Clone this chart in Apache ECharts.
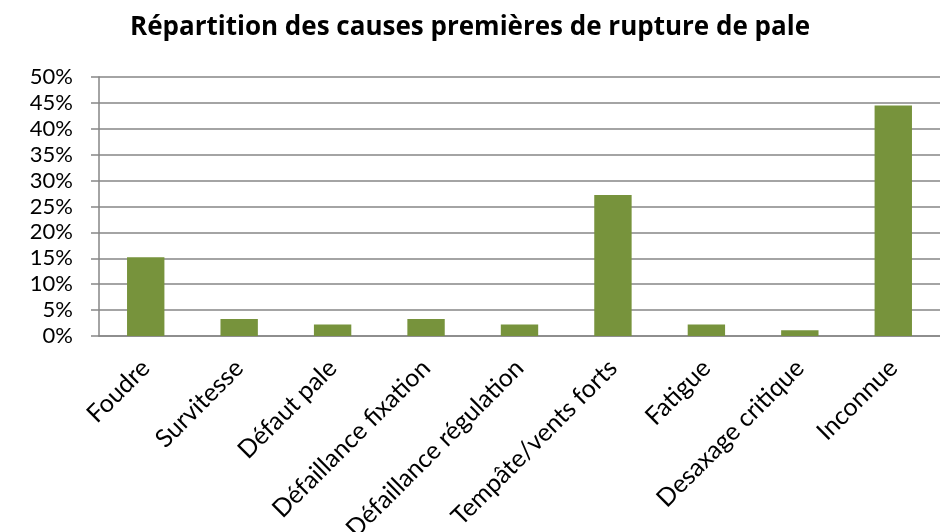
<!DOCTYPE html>
<html>
<head>
<meta charset="utf-8">
<script src="https://cdn.jsdelivr.net/npm/echarts@6/dist/echarts.min.js"></script>
<style>
html, body { margin: 0; padding: 0; background: #fff; }
#main { width: 940px; height: 532px; }
</style>
</head>
<body>
<div id="main"></div>
<script>
// données
var categories = ['Foudre', 'Survitesse', 'Défaut pale', 'Défaillance fixation', 'Défaillance régulation',
  'Tempâte/vents forts', 'Fatigue', 'Desaxage critique', 'Inconnue'];
var parts = [15.2, 3.3, 2.2, 3.3, 2.2, 27.2, 2.2, 1.1, 44.5];
var yTicks = [0, 5, 10, 15, 20, 25, 30, 35, 40, 45, 50];

var police = 'Lato';
var myChart = echarts.init(document.getElementById('main'));
var option = {
  animation: false,
  title: {
    text: 'Répartition des causes premières de rupture de pale',
    left: 'center',
    top: 10,
    textStyle: { fontFamily: 'Open Sans', fontSize: 26, fontWeight: 'bold', color: '#000' }
  },
  grid: { left: 99, right: 0, top: 77, bottom: 196, outerBoundsMode: 'none' },
  xAxis: {
    type: 'category',
    data: categories,
    axisLine: { lineStyle: { color: '#868686', width: 1.5 } },
    axisTick: { length: 9, lineStyle: { color: '#868686', width: 1.5 } },
    axisLabel: {
      interval: 0,
      rotate: 45,
      margin: 28,
      fontFamily: police,
      fontSize: 25,
      color: '#000'
    }
  },
  yAxis: {
    type: 'value',
    min: yTicks[0],
    max: yTicks[yTicks.length - 1],
    interval: 5,
    axisLine: { show: true, lineStyle: { color: '#868686', width: 1.5 } },
    axisTick: { show: true, length: 8, lineStyle: { color: '#868686', width: 1.5 } },
    splitLine: { lineStyle: { color: '#868686', width: 1.5 } },
    axisLabel: {
      formatter: '{value}%',
      margin: 26,
      fontFamily: police,
      fontSize: 22,
      color: '#000'
    }
  },
  series: [{
    type: 'bar',
    data: parts,
    barWidth: '40%',
    itemStyle: { color: '#77933C' }
  }]
};
myChart.setOption(option);
</script>
</body>
</html>
